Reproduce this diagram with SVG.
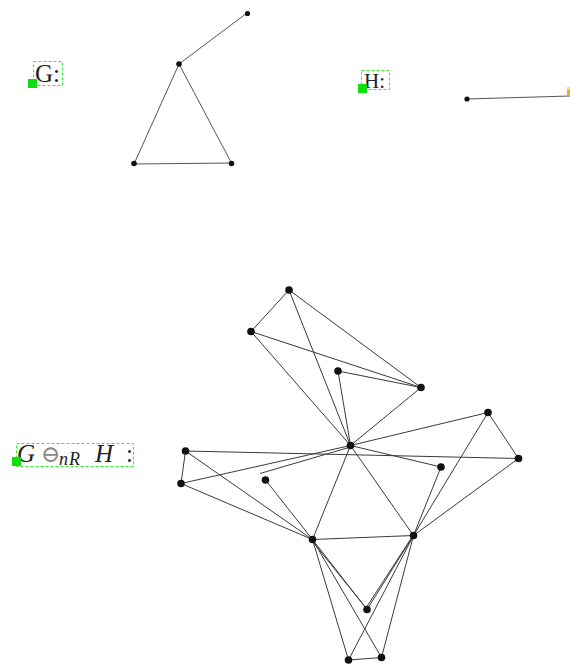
<svg xmlns="http://www.w3.org/2000/svg" width="570" height="664" viewBox="0 0 570 664">
<style>
.e{stroke:#3a3a3a;stroke-width:1;fill:none}
.et{stroke:#555;stroke-width:1;fill:none}
.n{fill:#111}
.lbl{font-family:"Liberation Serif","DejaVu Serif",serif;fill:#222}
.box{fill:none;stroke:#33ee33;stroke-width:1;stroke-dasharray:3,2}
.sq{fill:#11dd11}
</style>
<rect width="570" height="664" fill="#fff"/>
<g id="label-G">
<rect class="box" x="33.5" y="61.5" width="29" height="24"/>
<text class="lbl" x="35" y="82" font-size="25">G:</text>
<rect class="sq" x="28" y="79" width="9" height="9"/>
</g>
<g id="label-H">
<rect class="box" x="361.5" y="70.5" width="28" height="19"/>
<text class="lbl" x="364" y="87.5" font-size="21">H:</text>
<rect class="sq" x="358" y="84" width="9" height="9"/>
</g>
<g id="label-GH">
<rect class="box" x="16.5" y="443.5" width="117" height="23"/>
<text class="lbl" font-style="italic" font-size="25" y="461.5"><tspan x="17">G</tspan><tspan x="41" font-size="23" font-style="normal" fill="#888">⊖</tspan><tspan x="59" y="465" font-size="18" letter-spacing="1">nR</tspan><tspan x="95" y="461.5">H</tspan><tspan x="126" font-style="normal">:</tspan></text>
<rect class="sq" x="12" y="457" width="9" height="9"/>
</g>
<g id="connectors">
<line class="et" x1="247" y1="13" x2="179" y2="64"/>
<line class="et" x1="179" y1="64" x2="134" y2="164"/>
<line class="et" x1="179" y1="64" x2="232" y2="164"/>
<line class="et" x1="134" y1="164" x2="232" y2="163"/>
<line class="et" x1="467" y1="99" x2="570" y2="96"/>
<line class="e" x1="289" y1="290" x2="251" y2="331.5"/>
<line class="e" x1="289" y1="290" x2="421" y2="387.5"/>
<line class="e" x1="289" y1="290" x2="350.5" y2="445.5"/>
<line class="e" x1="251" y1="331.5" x2="421" y2="387.5"/>
<line class="e" x1="251" y1="331.5" x2="350.5" y2="445.5"/>
<line class="e" x1="338" y1="371" x2="421" y2="387.5"/>
<line class="e" x1="338" y1="371" x2="350.5" y2="445.5"/>
<line class="e" x1="421" y1="387.5" x2="350.5" y2="445.5"/>
<line class="e" x1="350.5" y1="445.5" x2="488" y2="412.5"/>
<line class="e" x1="185.5" y1="451" x2="518.5" y2="458.5"/>
<line class="e" x1="181" y1="483.5" x2="350.5" y2="445.5"/>
<line class="e" x1="260" y1="473.5" x2="350.5" y2="447"/>
<line class="e" x1="350.5" y1="445.5" x2="441" y2="467"/>
<line class="e" x1="350.5" y1="445.5" x2="312.5" y2="539.5"/>
<line class="e" x1="350.5" y1="445.5" x2="413.5" y2="535.5"/>
<line class="e" x1="488" y1="412.5" x2="518.5" y2="458.5"/>
<line class="e" x1="488" y1="412.5" x2="413.5" y2="535.5"/>
<line class="e" x1="518.5" y1="458.5" x2="413.5" y2="535.5"/>
<line class="e" x1="441" y1="467" x2="413.5" y2="535.5"/>
<line class="e" x1="185.5" y1="451" x2="181" y2="483.5"/>
<line class="e" x1="185.5" y1="451" x2="312.5" y2="539.5"/>
<line class="e" x1="181" y1="483.5" x2="312.5" y2="539.5"/>
<line class="e" x1="265.5" y1="480" x2="312.5" y2="539.5"/>
<line class="e" x1="312.5" y1="539.5" x2="413.5" y2="535.5"/>
<line class="e" x1="312.5" y1="539.5" x2="348.5" y2="660"/>
<line class="e" x1="312.5" y1="539.5" x2="367" y2="609.5"/>
<line class="e" x1="312.5" y1="541.5" x2="366" y2="608"/>
<line class="e" x1="312.5" y1="539.5" x2="381.5" y2="657.5"/>
<line class="e" x1="413.5" y1="535.5" x2="348.5" y2="660"/>
<line class="e" x1="413.5" y1="535.5" x2="367" y2="609.5"/>
<line class="e" x1="412" y1="537" x2="366" y2="608"/>
<line class="e" x1="413.5" y1="535.5" x2="381.5" y2="657.5"/>
<line class="e" x1="348.5" y1="660" x2="381.5" y2="657.5"/>
</g>
<g id="node-g1"><circle class="n" cx="247.5" cy="13.5" r="2.6"/></g>
<g id="node-g2"><circle class="n" cx="179" cy="64" r="2.8"/></g>
<g id="node-g3"><circle class="n" cx="134" cy="163.5" r="2.8"/></g>
<g id="node-g4"><circle class="n" cx="231.5" cy="163.5" r="2.8"/></g>
<g id="node-h1"><circle class="n" cx="467" cy="99" r="2.6"/></g>
<g id="node-h2"><rect x="567" y="89" width="3" height="7" fill="#f5a623"/><rect x="567" y="87" width="3" height="3" fill="#ffe066"/></g>
<g id="node-A"><circle class="n" cx="289" cy="290" r="3.8"/></g>
<g id="node-B"><circle class="n" cx="251" cy="331.5" r="3.8"/></g>
<g id="node-C"><circle class="n" cx="338" cy="371" r="3.8"/></g>
<g id="node-D"><circle class="n" cx="421" cy="387.5" r="3.8"/></g>
<g id="node-E"><circle class="n" cx="350.5" cy="445.5" r="3.8"/></g>
<g id="node-F"><circle class="n" cx="488" cy="412.5" r="3.8"/></g>
<g id="node-G"><circle class="n" cx="185.5" cy="451" r="3.8"/></g>
<g id="node-H"><circle class="n" cx="181" cy="483.5" r="3.8"/></g>
<g id="node-I"><circle class="n" cx="265.5" cy="480" r="3.8"/></g>
<g id="node-J"><circle class="n" cx="441" cy="467" r="3.8"/></g>
<g id="node-K"><circle class="n" cx="518.5" cy="458.5" r="3.8"/></g>
<g id="node-L"><circle class="n" cx="312.5" cy="539.5" r="3.8"/></g>
<g id="node-M"><circle class="n" cx="413.5" cy="535.5" r="3.8"/></g>
<g id="node-N"><circle class="n" cx="367" cy="609.5" r="3.8"/></g>
<g id="node-O"><circle class="n" cx="348.5" cy="660" r="3.8"/></g>
<g id="node-P"><circle class="n" cx="381.5" cy="657.5" r="3.8"/></g>
</svg>
